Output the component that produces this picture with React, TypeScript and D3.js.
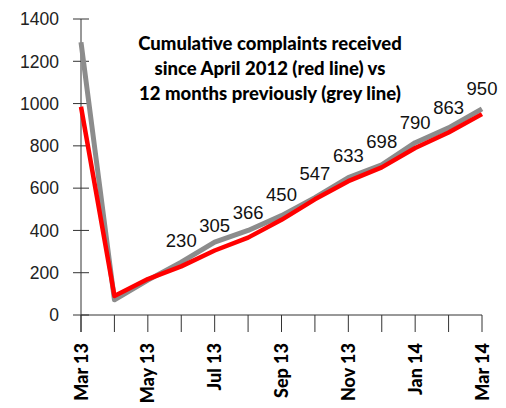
import * as d3 from 'd3'

const months = ['Mar 13', 'Apr 13', 'May 13', 'Jun 13', 'Jul 13', 'Aug 13', 'Sep 13', 'Oct 13', 'Nov 13', 'Dec 13', 'Jan 14', 'Feb 14', 'Mar 14']
const redValues = [985, 90, 170, 230, 305, 366, 450, 547, 633, 698, 790, 863, 950]
const greyValues = [1290, 72, 165, 250, 345, 400, 470, 555, 650, 710, 815, 885, 975]
const labelled = [false, false, false, true, true, true, true, true, true, true, true, true, true]
const yTicks = [0, 200, 400, 600, 800, 1000, 1200, 1400]
const titleLines = [
  'Cumulative complaints received',
  'since April 2012 (red line) vs',
  '12 months previously (grey line)',
]

const width = 506
const height = 408

export default function App() {
  const x = d3.scalePoint<string>().domain(months).range([81, 482])
  const y = d3.scaleLinear().domain([0, 1400]).range([315, 19])

  const line = d3.line<number>()
    .x((_d, i) => x(months[i]) as number)
    .y(d => y(d))

  const axisColor = '#333'

  return (
    <svg width={width} height={height} style={{ position: 'absolute', left: 0, top: 0, background: '#fff' }}>
      {/* y axis */}
      <line x1={81} x2={81} y1={y(1400)} y2={332} stroke={axisColor} strokeWidth={1} />
      {yTicks.map(t => (
        <g key={t}>
          <line x1={73} x2={89} y1={y(t)} y2={y(t)} stroke={axisColor} />
          <text x={59} y={y(t)} dy="0.36em" textAnchor="end" fontFamily="Liberation Sans, Arial, sans-serif" fontSize={17.5} fill="#222">{t}</text>
        </g>
      ))}
      {/* x axis */}
      <line x1={81} x2={482} y1={y(0)} y2={y(0)} stroke={axisColor} />
      {months.map((m, i) => (
        <g key={m}>
          <line x1={x(m)} x2={x(m)} y1={y(0)} y2={332} stroke={axisColor} />
          {i % 2 === 0 && (
            <text
              transform={`translate(${(x(m) as number) + 6.5},343) rotate(-90)`}
              textAnchor="end"
              fontFamily="Lato, sans-serif"
              fontWeight={900}
              fontSize={18}
              fill="#000"
            >{m}</text>
          )}
        </g>
      ))}
      {/* lines */}
      <path d={line(greyValues) as string} fill="none" stroke="#8c8c8c" strokeWidth={5} strokeLinejoin="round" />
      <path d={line(redValues) as string} fill="none" stroke="#ff0000" strokeWidth={4.5} strokeLinejoin="round" />
      {/* data labels */}
      {redValues.map((v, i) => labelled[i] && (
        <text key={i} x={x(months[i])} y={y(v) - 19} textAnchor="middle" fontFamily="Liberation Sans, Arial, sans-serif" fontSize={18.5} fill="#111">{v}</text>
      ))}
      {/* title */}
      {titleLines.map((t, i) => (
        <text key={i} x={270} y={50 + i * 25} textAnchor="middle" fontFamily="Lato, sans-serif" fontWeight={900} fontSize={18.5} fill="#000">{t}</text>
      ))}
    </svg>
  )
}
